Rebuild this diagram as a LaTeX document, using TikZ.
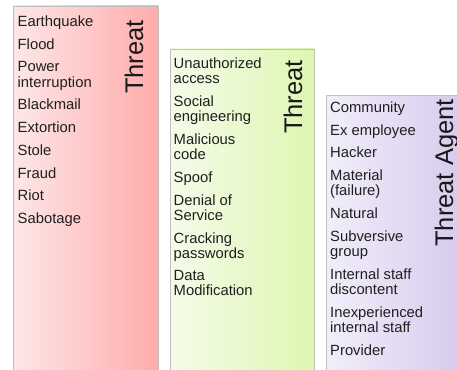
\documentclass[tikz,border=0pt]{standalone}
\usepackage{fontspec}
\setmainfont{Liberation Sans}
\usetikzlibrary{shadows}
\definecolor{redL}{HTML}{FEE7E7}
\definecolor{redR}{HTML}{FFABAB}
\definecolor{greenL}{HTML}{F5FBEA}
\definecolor{greenR}{HTML}{DDF7B1}
\definecolor{violetL}{HTML}{F1EEFA}
\definecolor{violetR}{HTML}{D6C8EC}
\begin{document}
\begin{tikzpicture}[x=1pt,y=1pt,
  panel/.style={draw=black!25, line width=0.8pt,
    drop shadow={shadow xshift=1pt, shadow yshift=-1pt, opacity=0.2}},
  item/.style={anchor=north west, inner sep=0pt, align=left, text=black!88,
    font=\fontsize{14.8}{15.2}\selectfont,
    execute at begin node=\strut, execute at end node=\strut},
  gap/.style={yshift=-7.1pt},
  title/.style={anchor=base east, rotate=90, inner sep=0pt, text=black!90,
    font=\fontsize{25.5}{28}\selectfont}]
\useasboundingbox (0,0) rectangle (457,-369);
\clip (0,0) rectangle (457,-369);

% three shaded panels, running off the bottom edge
\path[panel, left color=redL, right color=redR] (13,-6) rectangle (158,-380);
\path[panel, left color=greenL, right color=greenR] (170,-49) rectangle (314,-380);
\path[panel, left color=violetL, right color=violetR] (326,-95) rectangle (471,-380);

% first panel: threats
\node[title] (t1) at (143,-20) {Threat};
\node[item] (a1) at (17.5,-15.9) {Earthquake};
\node[item] (a2) at ([gap]a1.south west) {Flood};
\node[item] (a3) at ([gap]a2.south west) {Power\\interruption};
\node[item] (a4) at ([gap]a3.south west) {Blackmail};
\node[item] (a5) at ([gap]a4.south west) {Extortion};
\node[item] (a6) at ([gap]a5.south west) {Stole};
\node[item] (a7) at ([gap]a6.south west) {Fraud};
\node[item] (a8) at ([gap]a7.south west) {Riot};
\node[item] (a9) at ([gap]a8.south west) {Sabotage};

% second panel: threats
\node[title] (t2) at (302,-60) {Threat};
\node[item] (b1) at (173.5,-57.4) {Unauthorized\\access};
\node[item] (b2) at ([gap]b1.south west) {Social\\engineering};
\node[item] (b3) at ([gap]b2.south west) {Malicious\\code};
\node[item] (b4) at ([gap]b3.south west) {Spoof};
\node[item] (b5) at ([gap]b4.south west) {Denial of\\Service};
\node[item] (b6) at ([gap]b5.south west) {Cracking\\passwords};
\node[item] (b7) at ([gap]b6.south west) {Data\\Modification};

% third panel: threat agents
\node[title] (t3) at (453,-99) {Threat Agent};
\node[item] (c1) at (330,-101.4) {Community};
\node[item] (c2) at ([gap]c1.south west) {Ex employee};
\node[item] (c3) at ([gap]c2.south west) {Hacker};
\node[item] (c4) at ([gap]c3.south west) {Material\\(failure)};
\node[item] (c5) at ([gap]c4.south west) {Natural};
\node[item] (c6) at ([gap]c5.south west) {Subversive\\group};
\node[item] (c7) at ([gap]c6.south west) {Internal staff\\discontent};
\node[item] (c8) at ([gap]c7.south west) {Inexperienced\\internal staff};
\node[item] (c9) at ([gap]c8.south west) {Provider};
\end{tikzpicture}
\end{document}
